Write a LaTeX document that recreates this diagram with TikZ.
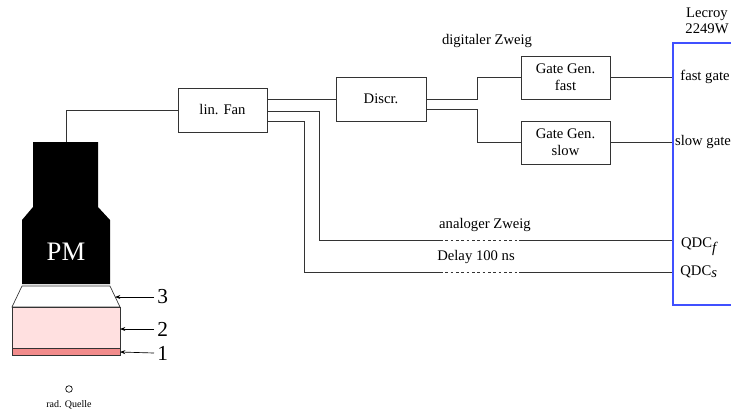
\documentclass[tikz,border=0pt]{standalone}
\usepackage{fontspec}
\setmainfont{Liberation Serif}
\usetikzlibrary{calc,arrows.meta}
\definecolor{scint}{HTML}{FFE0E0}
\definecolor{foil}{HTML}{F28C8C}
\definecolor{crate}{HTML}{4050FF}
\definecolor{wire}{HTML}{333333}
\tikzset{
  modul/.style={draw=wire, line width=0.7pt, font=\fontsize{11}{12.5}\selectfont, align=center, inner sep=0pt},
  kabel/.style={draw=wire, line width=0.7pt},
  verz/.style={draw=wire, line width=0.7pt, dash pattern=on 2pt off 2pt},
  hull/.style={draw=wire, line width=0.5pt},
  pfeil/.style={draw=black, line width=0.5pt, -{Stealth[length=4pt,width=3pt]}},
  lab/.style={font=\fontsize{11}{12}\selectfont, inner sep=0pt},
  num/.style={font=\fontsize{16}{18}\selectfont, inner sep=0pt, anchor=west}
}

\begin{document}
\begin{tikzpicture}[x=0.75pt,y=-0.75pt]
  \useasboundingbox (0,0) rectangle (731,412);

  % Photomultiplier, Lichtleiter, Szintillator, Folie
  \fill[black] (33,142) -- (98,142) -- (98,207) -- (110,220) -- (110,284)
    -- (22,284) -- (22,220) -- (33,207) -- cycle;
  \node[text=white, font=\fontsize{20}{24}\selectfont] (pm) at (66,252) {PM};
  \draw[hull] (22,286) -- (110,286) -- (120,307) -- (12,307) -- cycle;
  \draw[hull, fill=scint] (12,307) rectangle (120,348);
  \draw[hull, fill=foil] (12,348) rectangle (120,355);
  \coordinate (pmtop) at (66,142);

  \coordinate (l3) at (115,297);
  \coordinate (l2) at (120,329);
  \coordinate (l1) at (120,352);
  \node[num] (n3) at (157,297) {3};
  \node[num] (n2) at (157,329) {2};
  \node[num] (n1) at (157,353) {1};
  \draw[pfeil] (n3.west) ++(-3,0) -- (l3);
  \draw[pfeil] (n2.west) ++(-3,0) -- (l2);
  \draw[pfeil] (n1.west) ++(-3,0) -- (l1);

  % Quelle
  \node[draw, circle, line width=0.5pt, inner sep=0pt, minimum size=5pt] (quelle) at (69,389) {};
  \node[font=\fontsize{7.5}{9}\selectfont] at (69,405) {rad. Quelle};

  % Module
  \node[modul, minimum width=66.75pt, minimum height=33pt] (fan) at (222.5,110) {lin. Fan};
  \node[modul, minimum width=67.5pt, minimum height=33pt] (discr) at (381,99) {Discr.};
  \node[modul, minimum width=66.75pt, minimum height=32.25pt] (gfast) at (565.5,77.5) {Gate Gen.\\fast};
  \node[modul, minimum width=66.75pt, minimum height=32.25pt] (gslow) at (565.5,142.5) {Gate Gen.\\slow};
  \node[draw=crate, line width=0.8pt, minimum width=46.5pt, minimum height=196.5pt, inner sep=0pt] (lecroy) at (704,174) {};
  \node[lab, align=center] at (707,21) {Lecroy\\2249W};
  \node[lab] at (705,77) {fast gate};
  \node[lab] at (703,142) {slow gate};
  \node[lab] at (699,247) {QDC$_{\textit{f}}$};
  \node[lab] at (699,272) {QDC$_{\textit{s}}$};

  % Kabel
  \coordinate (dF1) at (440,240);
  \coordinate (dF2) at (519,240);
  \coordinate (dS1) at (440,272);
  \coordinate (dS2) at (519,272);
  \draw[kabel] (pmtop) |- (fan.west);
  \draw[kabel] (fan.east |- discr.west) -- (discr.west);
  \draw[kabel] ($(fan.east)+(0,1)$) -- ++(52,0) |- (dF1);
  \draw[verz] (dF1) -- (dF2);
  \draw[kabel] (dF2) -- (dF2 -| lecroy.west);
  \draw[kabel] ($(fan.east)+(0,11)$) -- ++(37,0) |- (dS1);
  \draw[verz] (dS1) -- (dS2);
  \draw[kabel] (dS2) -- (dS2 -| lecroy.west);
  \draw[kabel] (discr.east) -- ++(51,0) |- (gfast.west);
  \draw[kabel] ($(discr.east)+(0,10)$) -- ++(51,0) |- (gslow.west);
  \draw[kabel] (gfast.east) -- (gfast.east -| lecroy.west);
  \draw[kabel] (gslow.east) -- (gslow.east -| lecroy.west);

  \node[lab] at (487,41) {digitaler Zweig};
  \node[lab] at (485,225) {analoger Zweig};
  \node[lab] at (476,257) {Delay 100 ns};
\end{tikzpicture}
\end{document}
